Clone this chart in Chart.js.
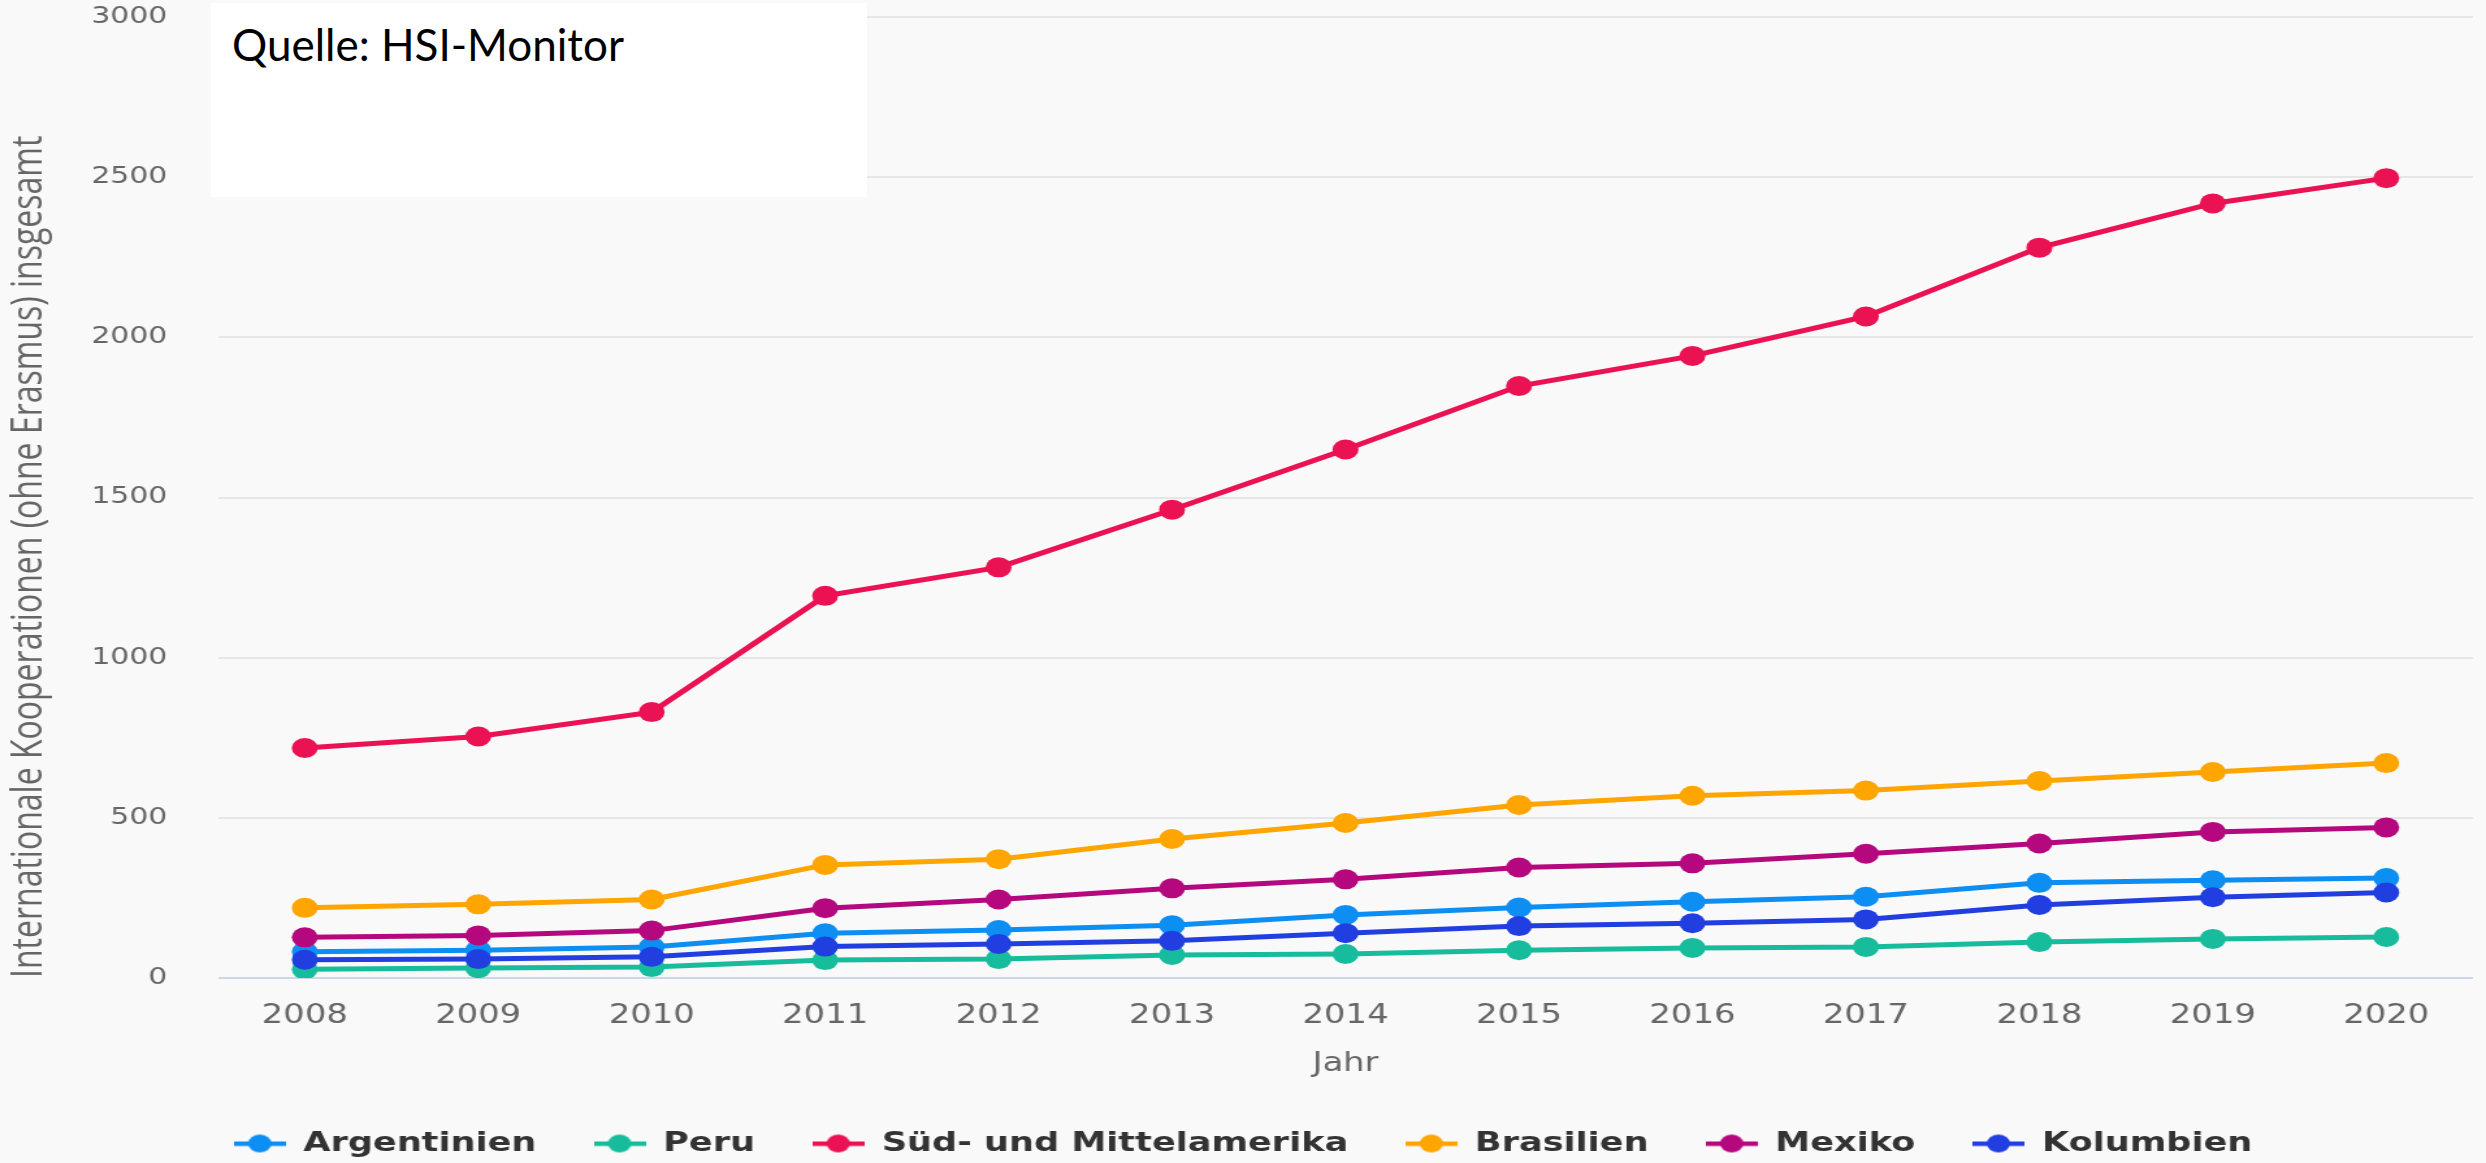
<!DOCTYPE html>
<html lang="de">
<head>
<meta charset="utf-8">
<title>Internationale Kooperationen – Süd- und Mittelamerika</title>
<script src="https://cdn.jsdelivr.net/npm/chart.js@4.4.1/dist/chart.umd.min.js"></script>
<style>
  html, body { margin: 0; padding: 0; background: #f9f9f9; overflow: hidden; }
  #wrap { position: relative; width: 2486px; height: 1163px; overflow: hidden; }
  /* the chart is laid out narrower and stretched sideways */
  #chart { position: absolute; left: 0; top: 0; transform: scaleX(1.30021); transform-origin: 0 0; }
  #quelle { position: absolute; left: 211px; top: 3px; width: 656px; height: 194px; background: #fff; }
  #quelle span { position: absolute; left: 21px; top: 19px; font: 44px/44px Lato, sans-serif; color: #000; white-space: nowrap; }
</style>
</head>
<body>
<div id="wrap">
  <canvas id="chart" width="1912" height="1163"></canvas>
  <div id="quelle"><span>Quelle: HSI-Monitor</span></div>
</div>
<script>
// ---- data ----
const years = ['2008', '2009', '2010', '2011', '2012', '2013', '2014', '2015', '2016', '2017', '2018', '2019', '2020'];
const seriesNames = ['Argentinien', 'Peru', 'Süd- und Mittelamerika', 'Brasilien', 'Mexiko', 'Kolumbien'];

const argentinien = [82, 87, 97, 140, 150, 165, 197, 220, 238, 254, 297, 305, 312];
const peru        = [27, 31, 34, 56, 59, 72, 75, 87, 94, 97, 112, 122, 128];
const suedMittel  = [718, 754, 830, 1193, 1282, 1462, 1650, 1848, 1942, 2065, 2280, 2418, 2497];
const brasilien   = [219, 230, 245, 353, 371, 434, 484, 540, 569, 585, 615, 643, 671];
const mexiko      = [127, 133, 148, 218, 245, 280, 308, 345, 358, 388, 420, 456, 470];
const kolumbien   = [57, 59, 66, 98, 106, 116, 140, 162, 171, 183, 228, 252, 267];

const yTicks = [0, 500, 1000, 1500, 2000, 2500, 3000];

const seriesValues = [argentinien, peru, suedMittel, brasilien, mexiko, kolumbien];
const seriesColors = ['#0d8ef2', '#17bc9c', '#ea1253', '#fea500', '#b5087e', '#213ee0'];

// legend marker: short line with a dot in the middle
function legendIcon(color) {
  const c = document.createElement('canvas');
  c.width = 40; c.height = 20;
  const g = c.getContext('2d');
  g.fillStyle = color;
  g.fillRect(0, 8, 40, 4.5);
  g.beginPath();
  g.arc(20, 10, 9, 0, Math.PI * 2);
  g.fill();
  return c;
}
const icons = seriesColors.map(legendIcon);

const datasets = seriesNames.map((name, i) => ({
  label: name,
  data: seriesValues[i],
  borderColor: seriesColors[i],
  backgroundColor: seriesColors[i],
  pointBackgroundColor: seriesColors[i],
  pointBorderWidth: 0,
  pointRadius: 10,
  borderWidth: 5,
  tension: 0,
  order: seriesNames.length - i   // later series on top
}));

const gridColor = (ctx) => ctx.tick && ctx.tick.value === 0 ? '#ccd6eb' : '#e6e6e6';

// nudge the legend row a few pixels lower
const legendShift = {
  id: 'legendShift',
  afterLayout(chart) {
    if (chart.legend) { chart.legend.top += 4; chart.legend.bottom += 4; }
  }
};

new Chart(document.getElementById('chart'), {
  type: 'line',
  data: { labels: years, datasets },
  plugins: [legendShift],
  options: {
    responsive: false,
    maintainAspectRatio: false,
    animation: false,
    layout: { padding: { top: 17, left: 0, right: 0, bottom: 0 } },
    plugins: {
      tooltip: { enabled: false },
      legend: {
        position: 'bottom',
        labels: {
          usePointStyle: true,
          pointStyleWidth: 40,
          padding: 44,
          color: '#333333',
          font: { family: 'DejaVu Sans', weight: 'bold', size: 27 },
          generateLabels(chart) {
            const items = Chart.defaults.plugins.legend.labels.generateLabels(chart);
            items.sort((a, b) => a.datasetIndex - b.datasetIndex);
            items.forEach(it => { it.pointStyle = icons[it.datasetIndex]; });
            return items;
          }
        }
      }
    },
    scales: {
      x: {
        type: 'category',
        offset: true,
        grid: { display: false },
        border: { display: false },
        ticks: { color: '#666666', font: { family: 'DejaVu Sans', size: 26 }, padding: 15, maxRotation: 0, autoSkip: false },
        title: { display: true, text: 'Jahr', color: '#666666', font: { family: 'DejaVu Sans', size: 26 }, padding: { top: 0, bottom: 2 } },
        afterFit(s) { s.height = 104; }
      },
      y: {
        min: 0,
        max: 3000,
        afterBuildTicks(s) { s.ticks = yTicks.map(v => ({ value: v })); },
        grid: { color: gridColor, lineWidth: 2, drawTicks: false },
        border: { display: false },
        ticks: { color: '#666666', font: { family: 'DejaVu Sans', size: 23 }, padding: 39, callback: (v) => String(v) },
        title: {
          display: true,
          text: 'Internationale Kooperationen (ohne Erasmus) insgesamt',
          align: 'start',
          color: '#666666',
          font: { family: 'Open Sans', size: 32 },
          padding: { top: 4, bottom: 0 }
        },
        afterFit(s) {
          s.width = 167.7;
          s.paddingTop = 8;
          s.paddingBottom = 8;
        }
      }
    }
  }
});
</script>
</body>
</html>
